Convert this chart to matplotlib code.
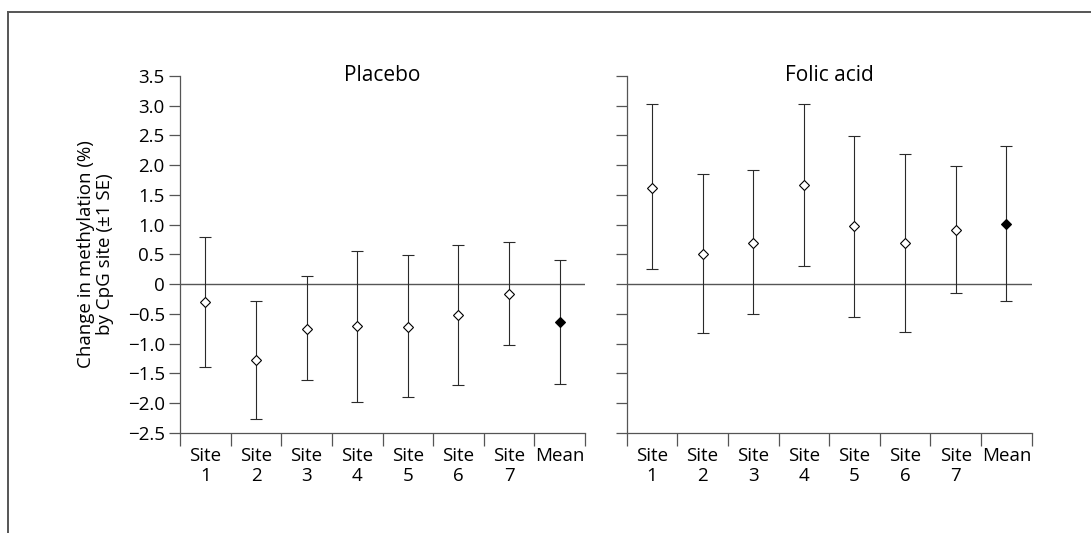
import matplotlib.pyplot as plt
from matplotlib.lines import Line2D
import numpy as np

plt.rcParams['font.family'] = ['Open Sans', 'DejaVu Sans']

labels = ["Site\n1", "Site\n2", "Site\n3", "Site\n4", "Site\n5", "Site\n6", "Site\n7", "Mean"]

placebo_mid = [-0.31, -1.27, -0.75, -0.71, -0.72, -0.52, -0.17, -0.63]
placebo_hi = [0.79, -0.28, 0.14, 0.55, 0.48, 0.65, 0.71, 0.40]
placebo_lo = [-1.40, -2.26, -1.61, -1.99, -1.90, -1.70, -1.03, -1.68]

folic_mid = [1.62, 0.51, 0.69, 1.66, 0.97, 0.69, 0.91, 1.01]
folic_hi = [3.03, 1.85, 1.91, 3.03, 2.49, 2.18, 1.98, 2.32]
folic_lo = [0.25, -0.83, -0.50, 0.30, -0.55, -0.81, -0.15, -0.29]

yticks = [-2.5, -2.0, -1.5, -1.0, -0.5, 0, 0.5, 1.0, 1.5, 2.0, 2.5, 3.0, 3.5]
ytick_labels = ["\u22122.5", "\u22122.0", "\u22121.5", "\u22121.0", "\u22120.5", "0",
                "0.5", "1.0", "1.5", "2.0", "2.5", "3.0", "3.5"]

axis_col = "#555555"
bar_col = "#2a2a2a"

fig = plt.figure(figsize=(10.91, 5.33), dpi=100)

# outer frame (top and left only visible)
fig.add_artist(Line2D([8 / 1091, 1.0], [1 - 12 / 533, 1 - 12 / 533], transform=fig.transFigure,
                      color=axis_col, lw=1.4))
fig.add_artist(Line2D([8 / 1091, 8 / 1091], [0.0, 1 - 12 / 533], transform=fig.transFigure,
                      color=axis_col, lw=1.4))

ax1 = fig.add_axes([0.165, 0.188, 0.3712, 0.6698])
ax2 = fig.add_axes([0.5744, 0.188, 0.3712, 0.6698])


def draw_panel(ax, mid, hi, lo, title, show_labels):
    x = np.arange(len(mid)) + 0.5
    mid = np.array(mid)
    err = [mid - np.array(lo), np.array(hi) - mid]
    ax.axhline(0, color=axis_col, lw=1.0, zorder=1)
    ax.errorbar(x, mid, yerr=err, fmt="none", ecolor=bar_col, elinewidth=0.8,
                capsize=4, capthick=0.8, zorder=2)
    ax.plot(x[:-1], mid[:-1], "D", ms=4.8, mfc="white", mec="black", mew=0.8, zorder=3)
    ax.plot(x[-1:], mid[-1:], "D", ms=4.8, mfc="black", mec="black", mew=0.8, zorder=3)

    ax.set_xlim(0, len(mid))
    ax.set_ylim(-2.5, 3.5)
    ax.set_xticks(np.arange(len(mid) + 1))
    ax.set_xticklabels([])
    ax.set_xticks(x, minor=True)
    ax.set_xticklabels(labels, minor=True, fontsize=13.5, linespacing=1.2)
    ax.tick_params(axis="x", which="major", direction="out", length=9, width=0.9, color=axis_col)
    ax.tick_params(axis="x", which="minor", length=0, pad=10)
    ax.set_yticks(yticks)
    if show_labels:
        ax.set_yticklabels(ytick_labels, fontsize=13.5)
    else:
        ax.set_yticklabels([])
    ax.tick_params(axis="y", direction="out", length=8, width=0.9, color=axis_col, pad=3)

    for s in ["top", "right"]:
        ax.spines[s].set_visible(False)
    for s in ["left", "bottom"]:
        ax.spines[s].set_color(axis_col)
        ax.spines[s].set_linewidth(0.9)

    ax.text(0.5 * len(mid), 3.5, title, ha="center", va="center", fontsize=15)


draw_panel(ax1, placebo_mid, placebo_hi, placebo_lo, "Placebo", True)
draw_panel(ax2, folic_mid, folic_hi, folic_lo, "Folic acid", False)

ax1.set_ylabel("Change in methylation (%)\nby CpG site (\u00b11 SE)", fontsize=13.5,
               linespacing=1.05, labelpad=10)

fig.savefig("out.png", dpi=100)
